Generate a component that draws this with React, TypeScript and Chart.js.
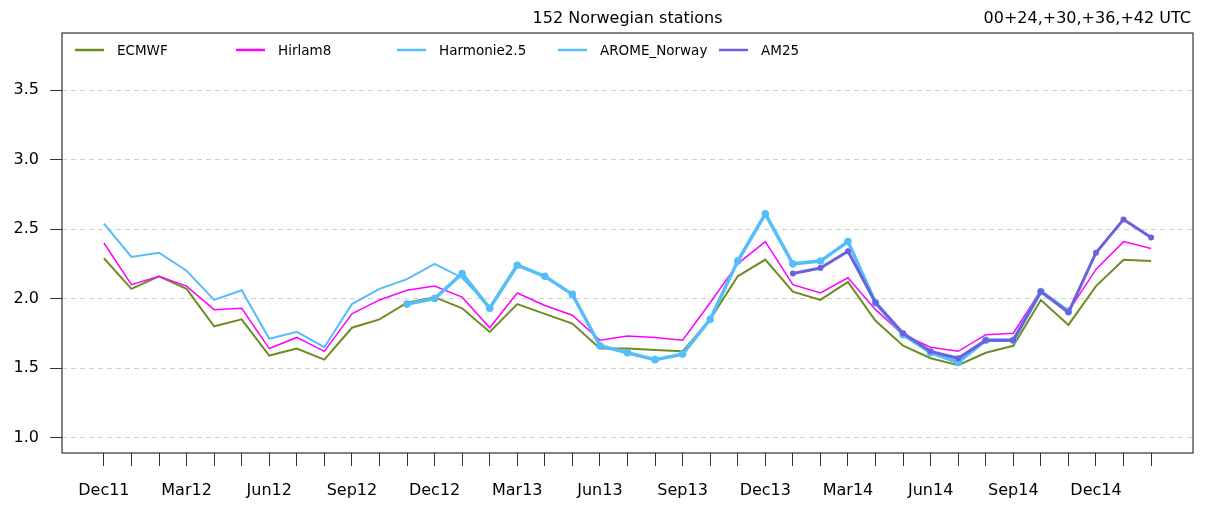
import React, { useEffect, useRef } from "react";
import { Chart, registerables } from "chart.js";

Chart.register(...registerables);

const months = [
  "Dec11", "Jan12", "Feb12", "Mar12", "Apr12", "May12", "Jun12", "Jul12", "Aug12", "Sep12", "Oct12", "Nov12",
  "Dec12", "Jan13", "Feb13", "Mar13", "Apr13", "May13", "Jun13", "Jul13", "Aug13", "Sep13", "Oct13", "Nov13",
  "Dec13", "Jan14", "Feb14", "Mar14", "Apr14", "May14", "Jun14", "Jul14", "Aug14", "Sep14", "Oct14", "Nov14",
  "Dec14", "Jan15", "Feb15",
];

const ecmwf = [2.29, 2.07, 2.16, 2.07, 1.80, 1.85, 1.59, 1.64, 1.56, 1.79, 1.85, 1.97, 2.01, 1.93, 1.76, 1.96, 1.89, 1.82, 1.64, 1.64, 1.63, 1.62, 1.85, 2.16, 2.28, 2.05, 1.99, 2.12, 1.84, 1.66, 1.57, 1.52, 1.61, 1.66, 1.99, 1.81, 2.09, 2.28, 2.27];
const hirlam8 = [2.40, 2.10, 2.16, 2.09, 1.92, 1.93, 1.64, 1.72, 1.62, 1.89, 1.99, 2.06, 2.09, 2.01, 1.79, 2.04, 1.95, 1.88, 1.70, 1.73, 1.72, 1.70, 1.97, 2.25, 2.41, 2.10, 2.04, 2.15, 1.92, 1.74, 1.65, 1.62, 1.74, 1.75, 2.06, 1.91, 2.21, 2.41, 2.36];
const harmonie25 = [2.54, 2.30, 2.33, 2.20, 1.99, 2.06, 1.71, 1.76, 1.65, 1.96, 2.07, 2.14, 2.25, 2.15, 1.94, null, null, null, null, null, null, null, null, null, null, null, null, null, null, null, null, null, null, null, null, null, null, null, null];
const aromeNorway = [null, null, null, null, null, null, null, null, null, null, null, 1.96, 2.00, 2.18, 1.93, 2.24, 2.16, 2.03, 1.66, 1.61, 1.56, 1.60, 1.85, 2.27, 2.61, 2.25, 2.27, 2.41, 1.97, 1.74, 1.61, 1.54, 1.70, 1.70, 2.05, 1.91, null, null, null];
const am25 = [null, null, null, null, null, null, null, null, null, null, null, null, null, null, null, null, null, null, null, null, null, null, null, null, null, 2.18, 2.22, 2.34, 1.97, 1.75, 1.62, 1.57, 1.70, 1.70, 2.05, 1.90, 2.33, 2.57, 2.44];

const yTicks = [1.0, 1.5, 2.0, 2.5, 3.0, 3.5];
const titleText = "152 Norwegian stations";
const rightText = "00+24,+30,+36,+42 UTC";

const FONT = '"DejaVu Sans", "Liberation Sans", Arial, sans-serif';

function toPoints(arr: (number | null)[]) {
  const out: { x: number; y: number }[] = [];
  arr.forEach((v, i) => {
    if (v !== null) out.push({ x: i, y: v });
  });
  return out;
}

const series = [
  { label: "ECMWF", data: ecmwf, color: "#6B8E23", width: 2, radius: 0, order: 4 },
  { label: "Hirlam8", data: hirlam8, color: "#FF00FF", width: 1.5, radius: 0, order: 3 },
  { label: "Harmonie2.5", data: harmonie25, color: "#55BDF7", width: 2, radius: 0, order: 2 },
  { label: "AROME_Norway", data: aromeNorway, color: "#55BDF7", width: 3.5, radius: 3.8, order: 1 },
  { label: "AM25", data: am25, color: "#6A62DC", width: 3, radius: 3, order: 0 },
];

const overlayPlugin = {
  id: "overlay",
  afterDraw(chart: any) {
    const { ctx, chartArea: a } = chart;
    ctx.save();
    // plot box
    ctx.strokeStyle = "#333";
    ctx.lineWidth = 1.2;
    ctx.strokeRect(a.left, a.top, a.right - a.left, a.bottom - a.top);
    // titles
    ctx.fillStyle = "#000";
    ctx.font = `16px ${FONT}`;
    ctx.textBaseline = "alphabetic";
    ctx.textAlign = "center";
    ctx.fillText(titleText, (a.left + a.right) / 2, 23);
    ctx.textAlign = "right";
    ctx.fillText(rightText, a.right - 2, 23);
    // legend
    ctx.font = `13.5px ${FONT}`;
    ctx.textAlign = "left";
    ctx.textBaseline = "middle";
    series.forEach((s, i) => {
      const x0 = a.left + 13 + i * 161;
      const y = a.top + 17;
      ctx.strokeStyle = s.color;
      ctx.lineWidth = 2.5;
      ctx.beginPath();
      ctx.moveTo(x0, y);
      ctx.lineTo(x0 + 29, y);
      ctx.stroke();
      ctx.fillStyle = "#000";
      ctx.fillText(s.label, x0 + 42, y + 1);
    });
    ctx.restore();
  },
};

export default function App() {
  const ref = useRef<HTMLCanvasElement | null>(null);

  useEffect(() => {
    if (!ref.current) return;
    const chart = new Chart(ref.current, {
      type: "line",
      data: {
        datasets: series.map((s) => ({
          label: s.label,
          data: toPoints(s.data),
          borderColor: s.color,
          backgroundColor: s.color,
          borderWidth: s.width,
          pointRadius: s.radius,
          pointBackgroundColor: s.color,
          pointBorderWidth: 0,
          pointHoverRadius: s.radius,
          tension: 0,
          fill: false,
          order: s.order,
        })),
      },
      options: {
        responsive: false,
        animation: false,
        events: [],
        layout: { padding: { top: 33, right: 12, left: 0, bottom: 0 } },
        plugins: {
          legend: { display: false },
          title: { display: false },
          tooltip: { enabled: false },
        },
        scales: {
          x: {
            type: "linear",
            min: -1.52,
            max: 39.52,
            afterBuildTicks: (s: any) => {
              s.ticks = months.map((_, i) => ({ value: i }));
            },
            afterFit: (s: any) => {
              s.height = 52;
            },
            ticks: {
              autoSkip: false,
              maxRotation: 0,
              minRotation: 0,
              padding: 15,
              color: "#000",
              font: { family: FONT, size: 16 },
              callback: (v: any) => (Number(v) % 3 === 0 ? months[Number(v)] : ""),
            },
            grid: {
              drawOnChartArea: false,
              drawTicks: true,
              tickLength: 13,
              tickColor: "#333",
              tickWidth: 1,
            },
            border: { display: false },
          },
          y: {
            type: "linear",
            min: 0.888,
            max: 3.912,
            afterBuildTicks: (s: any) => {
              s.ticks = yTicks.map((v) => ({ value: v }));
            },
            afterFit: (s: any) => {
              s.width = 62;
            },
            ticks: {
              padding: 11,
              color: "#000",
              font: { family: FONT, size: 16 },
              callback: (v: any) => Number(v).toFixed(1),
            },
            grid: {
              color: "#cfcfcf",
              lineWidth: 1,
              tickLength: 12,
              tickColor: "#333",
              tickWidth: 1,
              tickBorderDash: [],
            },
            border: { display: false, dash: [5, 4] },
          },
        },
      } as any,
      plugins: [overlayPlugin],
    });
    return () => chart.destroy();
  }, []);

  return (
    <div style={{ position: "absolute", left: 0, top: 0, width: 1205, height: 505, background: "#fff" }}>
      <canvas ref={ref} width={1205} height={505} style={{ display: "block" }} />
    </div>
  );
}
